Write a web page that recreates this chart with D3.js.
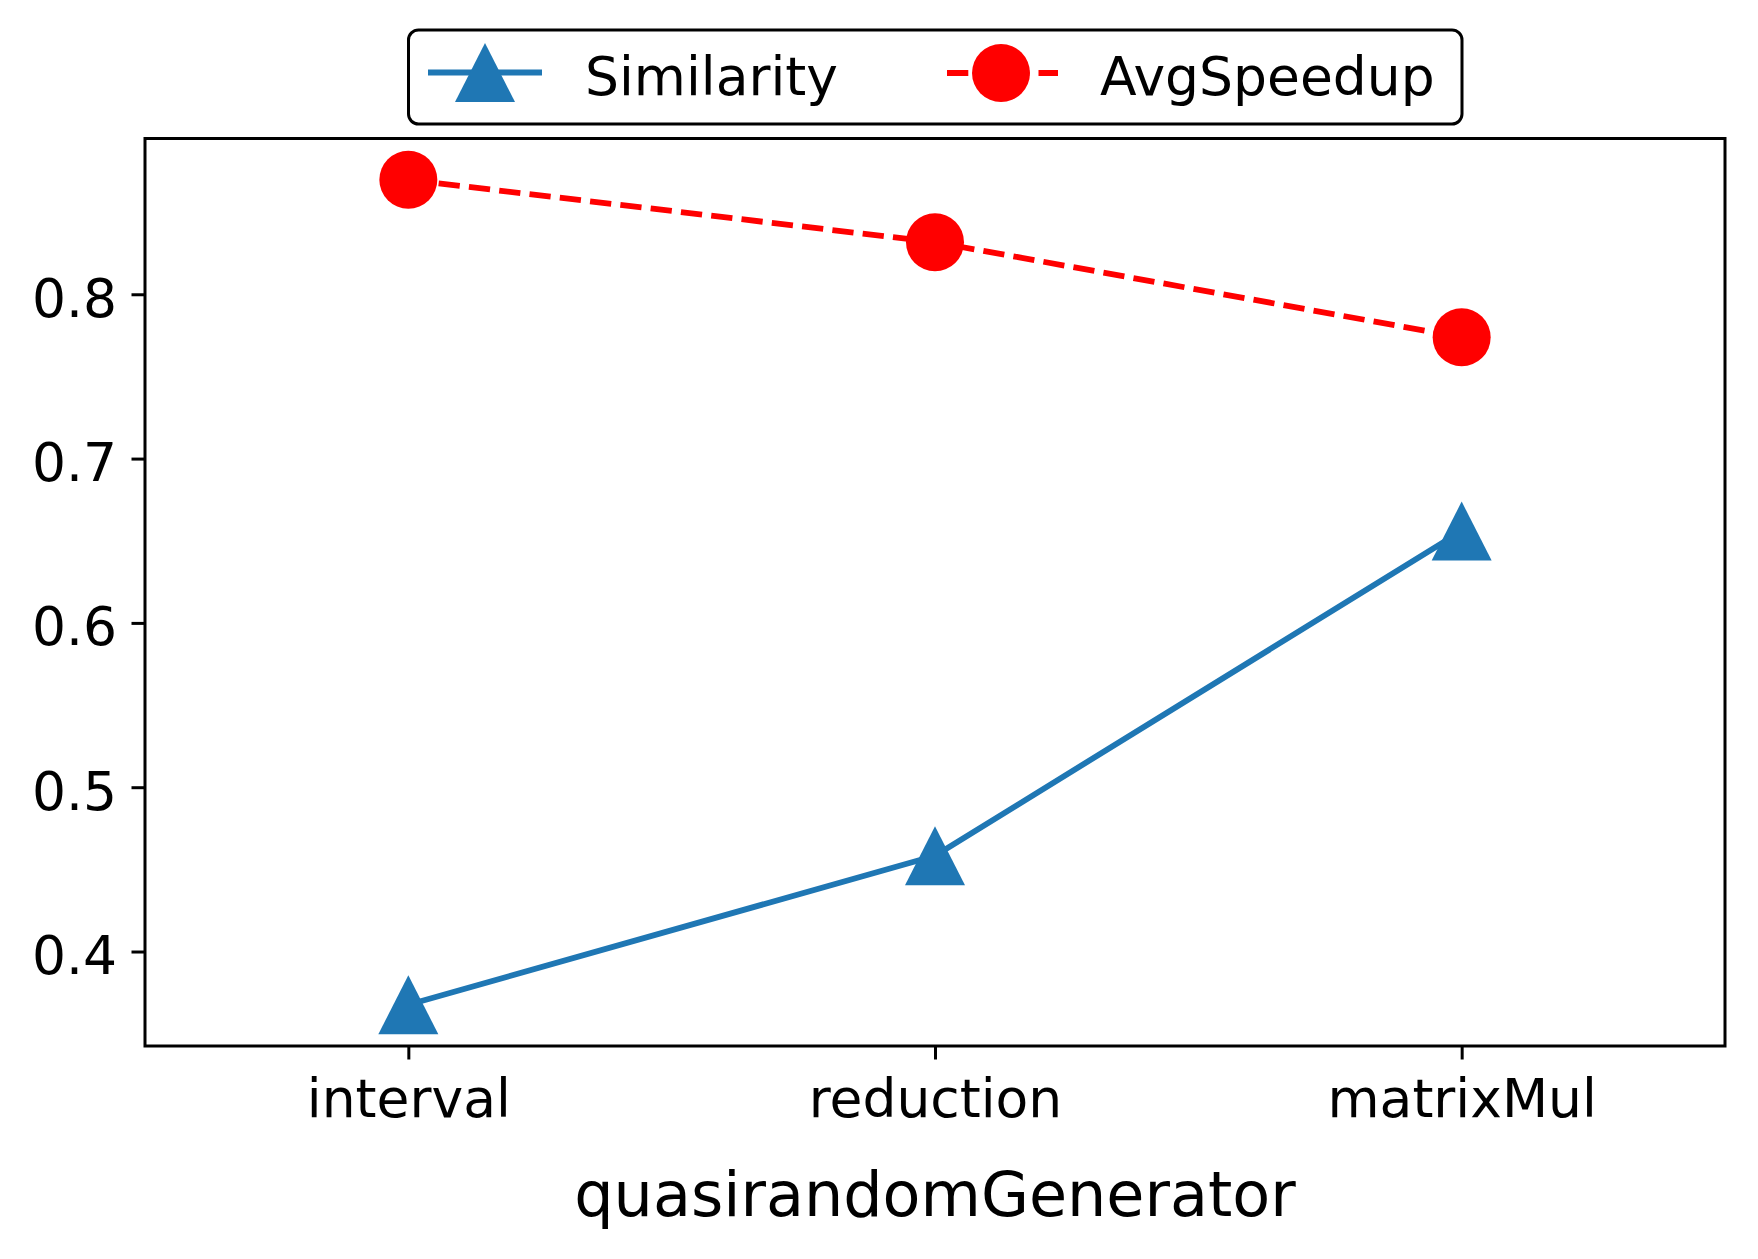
<!DOCTYPE html>
<html><head><meta charset="utf-8">
<script src="https://cdn.jsdelivr.net/npm/d3@7"></script>
<style>body{margin:0;background:#fff}</style>
</head><body>
<svg id="chart" width="1758" height="1259" xmlns="http://www.w3.org/2000/svg"></svg>
<script>
const categories = ["interval", "reduction", "matrixMul"];
const similarity = [0.3676, 0.4583, 0.6559];
const avgSpeedup = [0.8697, 0.8317, 0.7738];
const yTicks = [0.4, 0.5, 0.6, 0.7, 0.8];
const seriesNames = ["Similarity", "AvgSpeedup"];
const xLabel = "quasirandomGenerator";

const W = 1758, H = 1259;
const plot = {left: 145, right: 1725, top: 138.5, bottom: 1046};
const FONT = "DejaVu Sans, sans-serif";
const BLUE = "#1f77b4", RED = "#ff0000";

const svg = d3.select("#chart");
svg.append("rect").attr("width", W).attr("height", H).attr("fill", "#fff");

const x = d3.scalePoint().domain(categories).range([plot.left, plot.right]).padding(0.5);
const y = d3.scaleLinear().domain([0.3425, 0.8948]).range([plot.bottom, plot.top]);

// axes
const gy = svg.append("g").attr("transform", `translate(${plot.left},0)`)
  .call(d3.axisLeft(y).tickValues(yTicks).tickFormat(d3.format(".1f")).tickSize(13.5).tickSizeOuter(0).tickPadding(14.5));
gy.select(".domain").remove();
gy.selectAll(".tick line").attr("stroke", "#000").attr("stroke-width", 3);
gy.selectAll(".tick text").attr("font-family", FONT).attr("font-size", 53.5).attr("fill", "#000").attr("dy", "0.41em");

const gx = svg.append("g").attr("transform", `translate(0,${plot.bottom})`)
  .call(d3.axisBottom(x).tickSize(13.5).tickSizeOuter(0).tickPadding(19));
gx.select(".domain").remove();
gx.selectAll(".tick line").attr("stroke", "#000").attr("stroke-width", 3);
gx.selectAll(".tick text").attr("font-family", FONT).attr("font-size", 53.5).attr("fill", "#000")
  .attr("dy", null).attr("y", 70.7);

svg.append("text").attr("x", (plot.left + plot.right) / 2).attr("y", 1215.7)
  .attr("text-anchor", "middle").attr("font-family", FONT).attr("font-size", 62).attr("fill", "#000")
  .text(xLabel);

// clip
svg.append("clipPath").attr("id", "clip").append("rect")
  .attr("x", plot.left).attr("y", plot.top).attr("width", plot.right - plot.left).attr("height", plot.bottom - plot.top);

const triPath = (w, h) => `M0,${-h/2}L${w/2},${h/2}L${-w/2},${h/2}Z`;
const line = d3.line().x((d, i) => x(categories[i])).y(d => y(d));

const gData = svg.append("g").attr("clip-path", "url(#clip)");
// Similarity
gData.append("path").datum(similarity).attr("d", line).attr("fill", "none")
  .attr("stroke", BLUE).attr("stroke-width", 5.8).attr("stroke-linejoin", "round").attr("stroke-linecap", "square");
gData.selectAll(".tri").data(similarity).enter().append("path").attr("class", "tri")
  .attr("d", triPath(60, 59)).attr("fill", BLUE)
  .attr("transform", (d, i) => `translate(${x(categories[i])},${y(d)})`);
// AvgSpeedup
gData.append("path").datum(avgSpeedup).attr("d", line).attr("fill", "none")
  .attr("stroke", RED).attr("stroke-width", 5.8).attr("stroke-dasharray", "21.3,9.2");
gData.selectAll(".circ").data(avgSpeedup).enter().append("circle").attr("class", "circ")
  .attr("cx", (d, i) => x(categories[i])).attr("cy", d => y(d)).attr("r", 29).attr("fill", RED);

// spines
svg.append("rect").attr("x", plot.left).attr("y", plot.top)
  .attr("width", plot.right - plot.left).attr("height", plot.bottom - plot.top)
  .attr("fill", "none").attr("stroke", "#000").attr("stroke-width", 3);

// legend
const lg = svg.append("g");
lg.append("rect").attr("x", 408.5).attr("y", 30).attr("width", 1053.5).attr("height", 94)
  .attr("rx", 10).attr("ry", 10).attr("fill", "#fff").attr("stroke", "#000").attr("stroke-width", 3);
const legendItems = [
  {name: seriesNames[0], x0: 428, xm: 485, x1: 542, ly: 72.5, tx: 585, color: BLUE, dash: null, marker: "tri"},
  {name: seriesNames[1], x0: 947, xm: 1001, x1: 1058, ly: 73, tx: 1100, color: RED, dash: "21.3,9.2", marker: "circ"}
];
legendItems.forEach(it => {
  lg.append("line").attr("x1", it.x0).attr("x2", it.x1).attr("y1", it.ly).attr("y2", it.ly)
    .attr("stroke", it.color).attr("stroke-width", 5.8).attr("stroke-dasharray", it.dash);
  if (it.marker === "tri") {
    lg.append("path").attr("d", triPath(60, 59)).attr("fill", it.color)
      .attr("transform", `translate(${it.xm},${it.ly})`);
  } else {
    lg.append("circle").attr("cx", it.xm).attr("cy", it.ly).attr("r", 29).attr("fill", it.color);
  }
  lg.append("text").attr("x", it.tx).attr("y", 94.5).attr("font-family", FONT).attr("font-size", 53.5)
    .attr("fill", "#000").text(it.name);
});
</script>
</body></html>
